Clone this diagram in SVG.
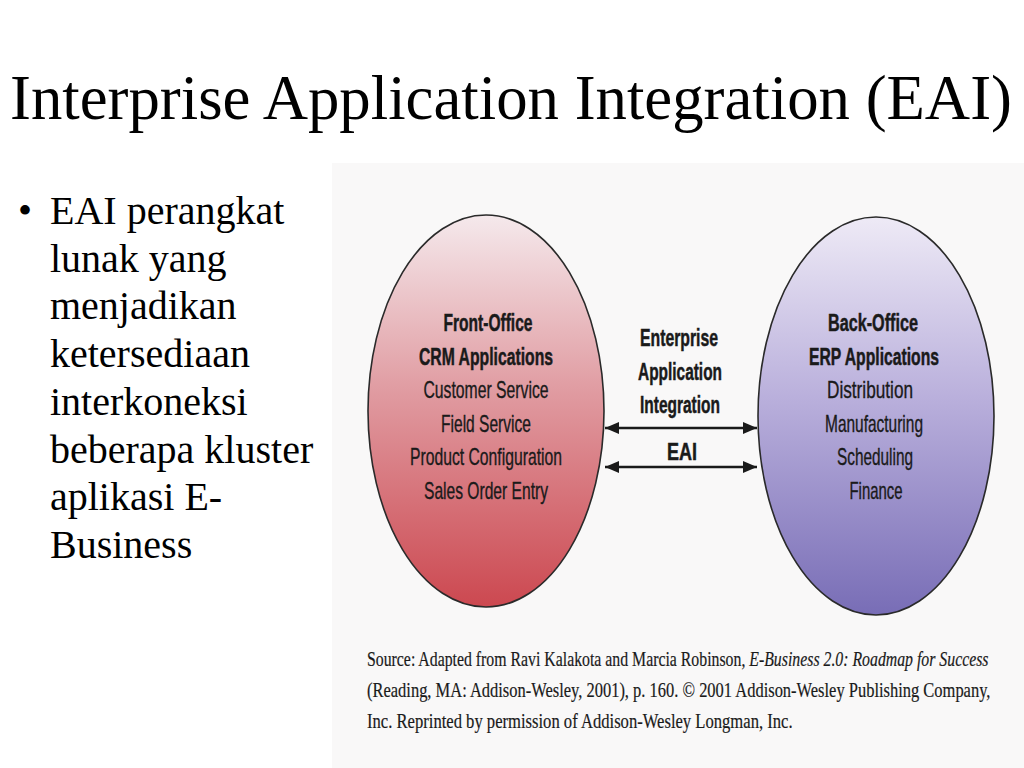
<svg xmlns="http://www.w3.org/2000/svg" width="1024" height="768" viewBox="0 0 1024 768">
  <defs>
    <linearGradient id="gradRed" x1="0" y1="0" x2="0" y2="1">
      <stop offset="0" stop-color="#f5e9ec"/>
      <stop offset="0.45" stop-color="#e09ba1"/>
      <stop offset="1" stop-color="#cc4850"/>
    </linearGradient>
    <linearGradient id="gradBlue" x1="0" y1="0" x2="0" y2="1">
      <stop offset="0" stop-color="#eeeaf6"/>
      <stop offset="0.45" stop-color="#bab0dc"/>
      <stop offset="1" stop-color="#786db6"/>
    </linearGradient>
    <marker id="arrow" viewBox="0 0 14 12" refX="14" refY="6" markerWidth="14" markerHeight="12" markerUnits="userSpaceOnUse" orient="auto-start-reverse">
      <path d="M0,0 L14,6 L0,12 Z" fill="#1a1a1a"/>
    </marker>
  </defs>
  <style>
    .title { font-family: "Liberation Serif", "Times New Roman", serif; font-size: 63px; fill: #000; }
    .bullet { font-family: "Liberation Serif", "Times New Roman", serif; font-size: 40px; fill: #000; }
    .node { font-family: "Liberation Sans Narrow", "Liberation Sans", Arial, sans-serif; font-size: 24px; fill: #1a1a1a; stroke: #1a1a1a; stroke-width: 0.35; text-anchor: middle; }
    .b { font-weight: bold; stroke-width: 0.5; }
    .src { font-family: "Liberation Serif", "Times New Roman", serif; font-size: 21px; fill: #1a1a1a; stroke: #1a1a1a; stroke-width: 0.2; }
    .ell { stroke: #2a2a2a; stroke-width: 1.6; }
    .conn { stroke: #1a1a1a; stroke-width: 2.6; fill: none; }
  </style>

  <rect x="0" y="0" width="1024" height="768" fill="#ffffff"/>
  <rect id="scan" x="332" y="163" width="692" height="605" fill="#f9f8f8"/>

  <g id="title">
    <text class="title" x="10" y="119" textLength="1002" lengthAdjust="spacingAndGlyphs">Interprise Application Integration (EAI)</text>
  </g>

  <g id="bullet-text">
    <text class="bullet" x="18" y="224">•</text>
    <text class="bullet" x="50" y="224">EAI perangkat</text>
    <text class="bullet" x="50" y="272">lunak yang</text>
    <text class="bullet" x="50" y="319">menjadikan</text>
    <text class="bullet" x="50" y="367">ketersediaan</text>
    <text class="bullet" x="50" y="415">interkoneksi</text>
    <text class="bullet" x="50" y="463">beberapa kluster</text>
    <text class="bullet" x="50" y="510">aplikasi E-</text>
    <text class="bullet" x="50" y="558">Business</text>
  </g>

  <g id="front-office">
    <ellipse class="ell" cx="486" cy="411" rx="118" ry="196" fill="url(#gradRed)"/>
    <text class="node b" x="488" y="331" textLength="89" lengthAdjust="spacingAndGlyphs">Front-Office</text>
    <text class="node b" x="486" y="364.5" textLength="134" lengthAdjust="spacingAndGlyphs">CRM Applications</text>
    <text class="node" x="486" y="398" textLength="125" lengthAdjust="spacingAndGlyphs">Customer Service</text>
    <text class="node" x="486" y="431.5" textLength="90" lengthAdjust="spacingAndGlyphs">Field Service</text>
    <text class="node" x="486" y="465" textLength="152" lengthAdjust="spacingAndGlyphs">Product Configuration</text>
    <text class="node" x="486" y="498.5" textLength="124" lengthAdjust="spacingAndGlyphs">Sales Order Entry</text>
  </g>

  <g id="back-office">
    <ellipse class="ell" cx="876" cy="416" rx="118" ry="199" fill="url(#gradBlue)"/>
    <text class="node b" x="873" y="331" textLength="90" lengthAdjust="spacingAndGlyphs">Back-Office</text>
    <text class="node b" x="874" y="364.5" textLength="130" lengthAdjust="spacingAndGlyphs">ERP Applications</text>
    <text class="node" x="870" y="398" textLength="86" lengthAdjust="spacingAndGlyphs">Distribution</text>
    <text class="node" x="874" y="431.5" textLength="98" lengthAdjust="spacingAndGlyphs">Manufacturing</text>
    <text class="node" x="875" y="465" textLength="76" lengthAdjust="spacingAndGlyphs">Scheduling</text>
    <text class="node" x="876" y="498.5" textLength="53" lengthAdjust="spacingAndGlyphs">Finance</text>
  </g>

  <g id="eai-label">
    <text class="node b" x="679" y="346" textLength="78" lengthAdjust="spacingAndGlyphs">Enterprise</text>
    <text class="node b" x="680" y="379.5" textLength="84" lengthAdjust="spacingAndGlyphs">Application</text>
    <text class="node b" x="680" y="413" textLength="80" lengthAdjust="spacingAndGlyphs">Integration</text>
    <text class="node b" x="682" y="460" textLength="30" lengthAdjust="spacingAndGlyphs">EAI</text>
  </g>

  <g id="connectors">
    <line class="conn" x1="605" y1="428" x2="757" y2="428" marker-start="url(#arrow)" marker-end="url(#arrow)"/>
    <line class="conn" x1="605" y1="467" x2="757" y2="467" marker-start="url(#arrow)" marker-end="url(#arrow)"/>
  </g>

  <g id="source">
    <text class="src" x="0" y="666" transform="matrix(0.753,0,0,1,367,0)">Source: Adapted from Ravi Kalakota and Marcia Robinson, <tspan font-style="italic">E-Business 2.0: Roadmap for Success</tspan></text>
    <text class="src" x="0" y="697" transform="matrix(0.785,0,0,1,367,0)">(Reading, MA: Addison-Wesley, 2001), p. 160. © 2001 Addison-Wesley Publishing Company,</text>
    <text class="src" x="0" y="728" transform="matrix(0.791,0,0,1,367,0)">Inc. Reprinted by permission of Addison-Wesley Longman, Inc.</text>
  </g>
</svg>
